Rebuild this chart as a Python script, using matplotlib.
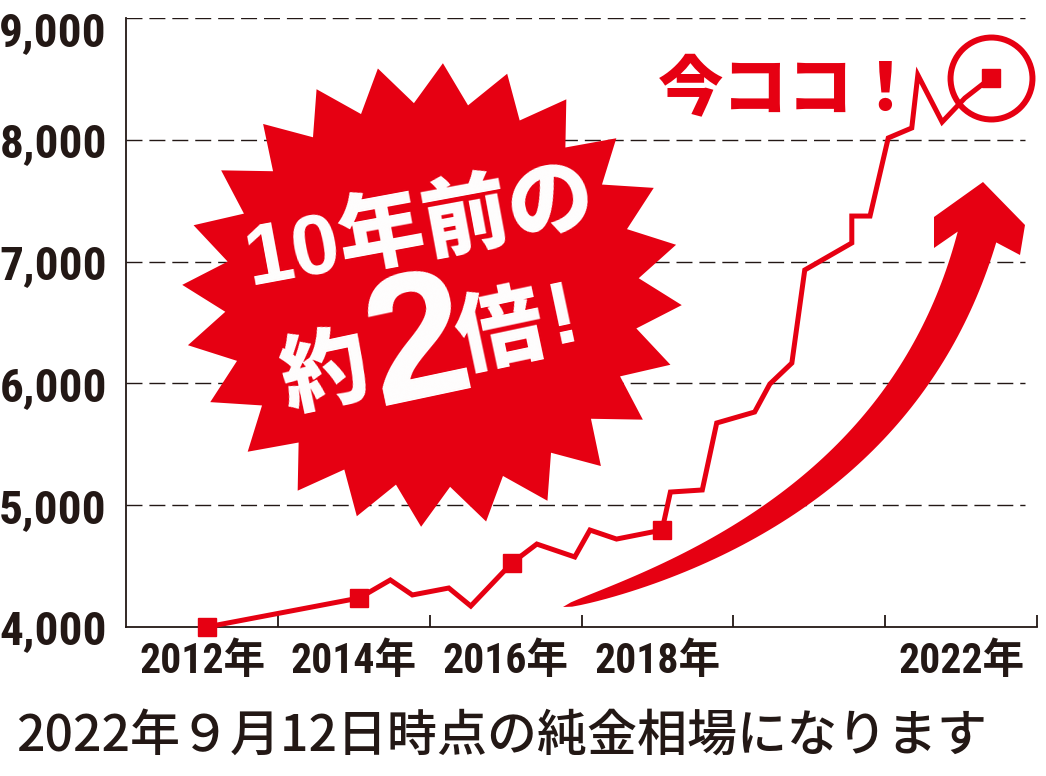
import matplotlib
matplotlib.use("Agg")
from matplotlib import pyplot as plt
from matplotlib import font_manager as fm
import matplotlib.patches as mpatches
import matplotlib.transforms as mtrans
import numpy as np

RED = "#e60012"
INK = "#231815"
CJK = "Noto Sans CJK JP"

# the numbers in the original are set in a condensed face; use one if there is one
installed = {f.name for f in fm.fontManager.ttflist}
cond = next((n for n in ["Roboto Condensed", "Liberation Sans Narrow", "DejaVu Sans Condensed",
                         "Open Sans Condensed"] if n in installed), None)
if cond:
    NUM_FONT, YSIZE, XSIZE = [cond, CJK], 34, 30
else:
    NUM_FONT, YSIZE, XSIZE = ["Liberation Sans", CJK], 27, 26

# gold price (yen / g)
years = [2012.06, 2014.07, 2014.48, 2014.77, 2015.25, 2015.54, 2016.08, 2016.41,
         2016.91, 2017.11, 2017.46, 2018.06, 2018.17, 2018.59, 2018.78, 2019.28,
         2019.48, 2019.77, 2019.94, 2020.56, 2020.56, 2020.80, 2021.04, 2021.35,
         2021.43, 2021.75, 2022.05, 2022.39]
price = [4000, 4238, 4386, 4263, 4320, 4172, 4525, 4681,
         4575, 4796, 4722, 4796, 5108, 5125, 5675, 5765,
         5995, 6167, 6931, 7153, 7374, 7374, 8015, 8097,
         8532, 8146, 8343, 8508]
marked = [0, 1, 6, 11, 27]

year_labels = [2012, 2014, 2016, 2018, 2022]
year_bounds = [2013, 2015, 2017, 2019, 2021, 2023]
y_ticks = [4000, 5000, 6000, 7000, 8000, 9000]

fig = plt.figure(figsize=(10.46, 7.76), dpi=100)
ax = fig.add_axes([126.2 / 1046, 149 / 776, (1037 - 126.2) / 1046, 609 / 776])
ax.set_xlim(2011, 2023)
ax.set_ylim(4000, 9000)

for s in ["top", "right"]:
    ax.spines[s].set_visible(False)
for s in ["left", "bottom"]:
    ax.spines[s].set_color(INK)
    ax.spines[s].set_linewidth(1.3)

# dashed grid, stops a little short of the right end
ax.hlines(y_ticks[1:], 2011, 2022.84, colors=INK, lw=1.0, linestyles=(0, (11.5, 5)), zorder=1)

ax.set_yticks(y_ticks)
ax.set_yticklabels([f"{v:,}" for v in y_ticks], family=NUM_FONT, fontweight="bold",
                   fontsize=YSIZE, color=INK)
ax.tick_params(axis="y", length=0, pad=14)

ax.set_xticks(year_bounds)
ax.set_xticklabels([""] * len(year_bounds))
ax.tick_params(axis="x", which="major", direction="in", length=9, width=1.3, color=INK)
ax.set_xticks(year_labels, minor=True)
ax.set_xticklabels([f"{y}年" for y in year_labels], minor=True, family=NUM_FONT,
                   fontweight="bold", fontsize=XSIZE, color=INK)
ax.tick_params(axis="x", which="minor", length=0, pad=10)

# top label sits lower so it stays inside the picture
top_lab = ax.get_yticklabels()[-1]
top_lab.set_transform(top_lab.get_transform() + mtrans.ScaledTranslation(0, -11 / 100, fig.dpi_scale_trans))

ax.plot(years, price, color=RED, lw=3.6, solid_joinstyle="miter", zorder=3, clip_on=False)
ax.plot([years[i] for i in marked], [price[i] for i in marked], ls="none", marker="s",
        ms=13.5, color=RED, zorder=4, clip_on=False)
ax.plot(years[-1], price[-1], ls="none", marker="o", ms=59, mfc="none", mec=RED, mew=4.3,
        zorder=4, clip_on=False)

# decoration layer in pixel coordinates
ov = fig.add_axes([0, 0, 1, 1], zorder=3)
ov.set_xlim(0, 1046)
ov.set_ylim(776, 0)
ov.axis("off")
ov.patch.set_alpha(0)

# starburst
cx, cy, rx, ry = 432, 295, 250, 232
ang = np.deg2rad(-2.5 + 7.5 * np.arange(48))
rad = np.where(np.arange(48) % 2 == 0, 1.0, 0.83)
burst = np.column_stack([cx + rx * rad * np.cos(ang), cy - ry * rad * np.sin(ang)])
ov.add_patch(mpatches.Polygon(burst, closed=True, color=RED, lw=0))

ov.text(420, 230, "10年前の", family=["Liberation Sans", CJK], fontweight="black",
        fontsize=62, color="white", rotation=10.5, ha="center", va="center")
ov.text(325, 375, "約", family=CJK, fontweight="black", fontsize=63, color="white",
        rotation=12, ha="center", va="center")
ov.text(419, 350, "2", family="Liberation Sans", fontweight="bold", fontsize=130,
        color="white", rotation=12, ha="center", va="center")
ov.text(500, 334, "倍", family=CJK, fontweight="black", fontsize=63, color="white",
        rotation=12, ha="center", va="center")
ov.text(563, 318, "!", family="Liberation Sans", fontweight="bold", fontsize=64,
        color="white", rotation=12, ha="center", va="center")

# rising arrow: tapered quadratic bezier + head
p0, p1, p2 = np.array([563, 607]), np.array([900, 510]), np.array([977, 237])
t = np.linspace(0, 1, 80)[:, None]
pts = (1 - t) ** 2 * p0 + 2 * t * (1 - t) * p1 + t ** 2 * p2
tan = 2 * (1 - t) * (p1 - p0) + 2 * t * (p2 - p1)
tan = tan / np.linalg.norm(tan, axis=1, keepdims=True)
nrm = np.column_stack([-tan[:, 1], tan[:, 0]])
hw = 20 * t ** 0.5
outer = pts + hw * nrm
inner = pts - hw * nrm
head = np.array([[934, 248], [934, 217], [983, 182], [1025, 225], [1020, 255]])
arrow = np.vstack([inner, head, outer[::-1]])
ov.add_patch(mpatches.Polygon(arrow, closed=True, color=RED, lw=0))

ov.text(788, 90, "今ココ！", family=CJK, fontweight="black", fontsize=47, color=RED,
        ha="center", va="center")

ov.text(502, 737, "2022年９月12日時点の純金相場になります", family=[CJK], fontweight="medium",
        fontsize=36, color=INK, ha="center", va="center")

fig.savefig("out.png", dpi=100)
